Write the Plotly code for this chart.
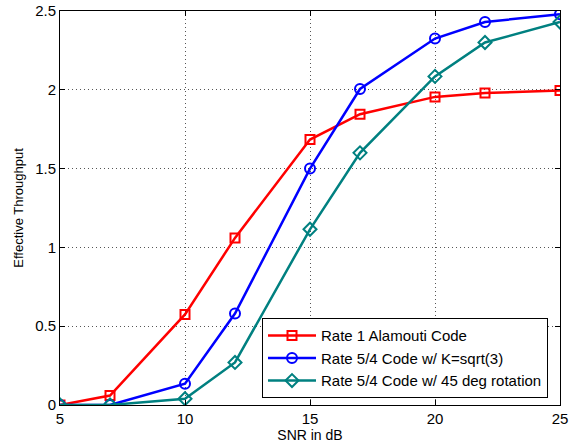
import plotly.graph_objects as go

snr = [5, 7, 10, 12, 15, 17, 20, 22, 25]
alamouti = [0.0, 0.06, 0.575, 1.06, 1.684, 1.845, 1.955, 1.98, 1.995]
k_sqrt3 = [0.0, 0.0, 0.135, 0.58, 1.50, 2.005, 2.325, 2.43, 2.48]
rot45 = [0.0, 0.0, 0.04, 0.27, 1.115, 1.60, 2.085, 2.30, 2.43]

names = ["Rate 1 Alamouti Code", "Rate 5/4 Code w/ K=sqrt(3)", "Rate 5/4 Code w/ 45 deg rotation"]
colors = ["#ff0000", "#0000ff", "#008080"]
symbols = ["square-open", "circle-open", "diamond-open"]
xticks = [5, 10, 15, 20, 25]
yticks = [0, 0.5, 1, 1.5, 2, 2.5]
yticklabels = ["0", "0.5", "1", "1.5", "2", "2.5"]

FONT = "Liberation Sans, Arial, sans-serif"

fig = go.Figure()
for ys, n, c, s in zip([alamouti, k_sqrt3, rot45], names, colors, symbols):
    fig.add_trace(go.Scatter(
        x=snr, y=ys, name=n, mode="lines+markers",
        line=dict(color=c, width=2.5),
        marker=dict(symbol=s, size=10 if s != "square-open" else 9, color=c, line=dict(color=c, width=2)),
    ))

axis_common = dict(
    showline=True, linecolor="black", linewidth=1, mirror="ticks",
    ticks="inside", ticklen=5, tickcolor="black",
    showgrid=True, gridcolor="#555555", griddash="1px,3px", gridwidth=1,
    zeroline=False, automargin=False, ticklabeloverflow="allow",
    tickfont=dict(family=FONT, size=15, color="black"),
)
fig.update_xaxes(range=[5, 25], tickvals=xticks, ticktext=[str(t) for t in xticks],
                 title=dict(text="SNR in dB", font=dict(family=FONT, size=14, color="black"), standoff=2),
                 **axis_common)
fig.update_yaxes(range=[0, 2.5], tickvals=yticks, ticktext=yticklabels,
                 title=dict(text="Effective Throughput", font=dict(family=FONT, size=13, color="black"), standoff=8),
                 **axis_common)

fig.update_layout(
    width=569, height=445,
    margin=dict(l=60, r=9, t=11, b=40),
    plot_bgcolor="white", paper_bgcolor="white",
    font=dict(family=FONT, size=15, color="black"),
    legend=dict(x=0.404, y=0.017, xanchor="left", yanchor="bottom",
                bgcolor="white", bordercolor="black", borderwidth=1,
                font=dict(family=FONT, size=15, color="black"), tracegroupgap=0, itemwidth=48,
                ),
    showlegend=True,
)

fig.write_html("out.html", config={"displayModeBar": False},
               post_script="document.body.style.margin='0';document.body.style.overflow='hidden';")
